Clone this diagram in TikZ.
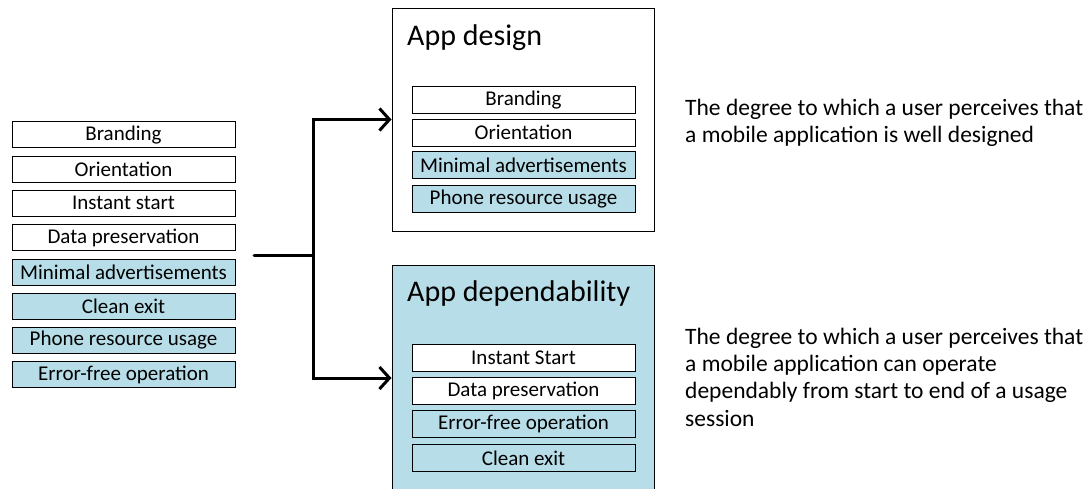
\documentclass[tikz,border=0pt]{standalone}
\usepackage{fontspec}
\setmainfont{Carlito}
\usetikzlibrary{arrows.meta}
\definecolor{paleblue}{RGB}{183,222,232}
\tikzset{
  item/.style={draw, line width=1pt, minimum width=223pt, inner sep=0pt,
    font=\fontsize{21}{25}\selectfont},
  leftitem/.style={item, minimum height=26pt},
  inneritem/.style={item, minimum height=27pt},
  blue/.style={fill=paleblue},
  white/.style={fill=white},
  group/.style={draw, line width=1pt, minimum width=262pt, inner sep=0pt},
  grouptitle/.style={anchor=base west, inner sep=0pt, font=\fontsize{30}{36}\selectfont},
  % multi-line text: the base anchor sits on the last line
  desc/.style={anchor=base west, inner sep=0pt, align=left,
    font=\fontsize{23.5}{27.2}\selectfont},
  conn/.style={line width=3pt, line cap=round},
  tip/.style={-{Straight Barb[length=10pt,width=22pt,line width=3pt]}}
}
\begin{document}
\begin{tikzpicture}[x=1pt,y=-1pt]
\clip (0,0) rectangle (1092,488);
\fill[white] (0,0) rectangle (1092,488);

% full list of attributes
\node[leftitem, white] (l1) at (123.5,134.7) {Branding};
\node[leftitem, white] (l2) at (123.5,169.0) {Orientation};
\node[leftitem, white] (l3) at (123.5,203.3) {Instant start};
\node[leftitem, white] (l4) at (123.5,237.6) {Data preservation};
\node[leftitem, blue]  (l5) at (123.5,272.0) {Minimal advertisements};
\node[leftitem, blue]  (l6) at (123.5,306.2) {Clean exit};
\node[leftitem, blue]  (l7) at (123.5,340.5) {Phone resource usage};
\node[leftitem, blue]  (l8) at (123.5,374.7) {Error-free operation};

% group: app design
\node[group, white, minimum height=223pt] (design) at (523,119.5) {};
\node[grouptitle] (designtitle) at (407,45) {App design};
\node[inneritem, white] (d1) at (523.5,100.0) {Branding};
\node[inneritem, white] (d2) at (523.5,132.8) {Orientation};
\node[inneritem, blue]  (d3) at (523.5,165.4) {Minimal advertisements};
\node[inneritem, blue]  (d4) at (523.5,198.6) {Phone resource usage};

% group: app dependability
\node[group, blue, minimum height=226pt] (dep) at (523,378) {};
\node[grouptitle] (deptitle) at (407,301.7) {App dependability};
\node[inneritem, white] (p1) at (523.5,357.7) {Instant Start};
\node[inneritem, white] (p2) at (523.5,391.0) {Data preservation};
\node[inneritem, blue]  (p3) at (523.5,424.4) {Error-free operation};
\node[inneritem, blue]  (p4) at (523.5,458.0) {Clean exit};

% definitions
\node[desc] (designdesc) at (685,142.5) {The degree to which a user perceives that\\a mobile application is well designed};
\node[desc] (depdesc) at (685,426) {The degree to which a user perceives that\\a mobile application can operate\\dependably from start to end of a usage\\session};

% split connector
\coordinate (stub) at (254,255);
\coordinate (split) at (313,255);
\draw[conn] (stub) -- (split);
\draw[conn, tip] (split) |- (design.west);
\draw[conn, tip] (split) |- (dep.west);
\end{tikzpicture}
\end{document}
